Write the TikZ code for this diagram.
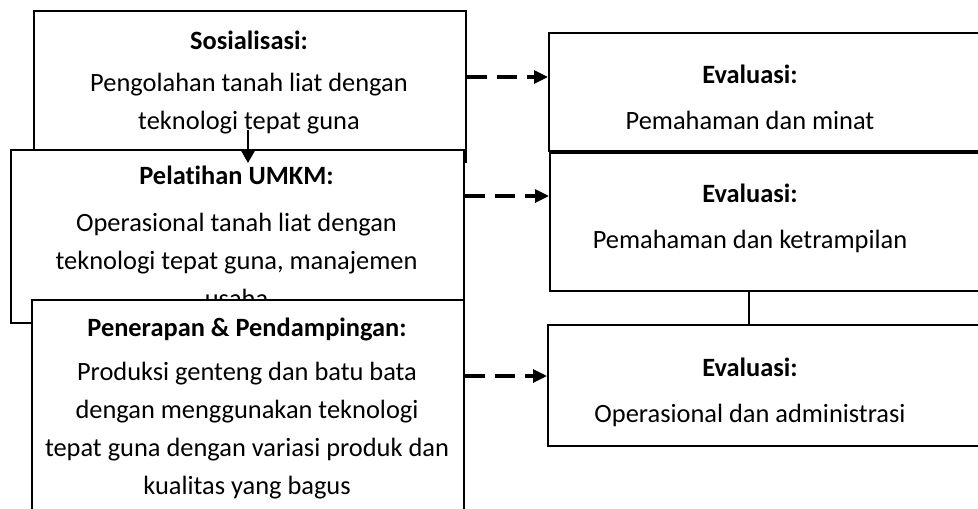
\documentclass[tikz,border=0pt]{standalone}
\usepackage{fontspec}
\setmainfont{Carlito}[Ligatures=NoCommon]
\usetikzlibrary{arrows.meta}
\tikzset{
  kotak/.style={draw,line width=1pt,fill=white,anchor=north west,inner sep=0pt},
  isi/.style={align=center,anchor=north,inner sep=0pt,
              font=\fontsize{13.2}{19}\selectfont},
  panah/.style={-{Triangle[length=7pt,width=6.5pt]},line width=1.6pt,
                dash pattern=on 10pt off 5pt},
  tegak/.style={-{Triangle[length=6pt,width=6.5pt]},line width=1pt}
}
\begin{document}
\begin{tikzpicture}[x=0.5pt,y=-0.5pt]
    \useasboundingbox (0,0) rectangle (978,508);
    % kiri: kegiatan
    \node[kotak,minimum width=216pt,minimum height=75.5pt](sos) at (33,10) {};
    \node[isi](sostxt) at (249,31)
      {\textbf{Sosialisasi:}\\[2pt] Pengolahan tanah liat dengan\\ teknologi tepat guna};
    \node[kotak,minimum width=226.5pt,minimum height=86.5pt](pel) at (10,149) {};
    \node[isi](peltxt) at (236.5,166)
      {\textbf{Pelatihan UMKM:}\\[4.5pt] Operasional tanah liat dengan\\
       teknologi tepat guna, manajemen\\ usaha};
    \node[kotak,minimum width=216pt,minimum height=120pt](pen) at (31,299) {};
    \node[isi](pentxt) at (247,318)
      {\textbf{Penerapan \& Pendampingan:}\\[3pt] Produksi genteng dan batu bata\\
       dengan menggunakan teknologi\\ tepat guna dengan variasi produk dan\\
       kualitas yang bagus};
    % kanan: evaluasi
    \node[kotak,minimum width=220pt,minimum height=59pt](ev1) at (548,32) {};
    \node[isi](ev1txt) at (750,65) {\textbf{Evaluasi:}\\[4pt] Pemahaman dan minat};
    \node[kotak,minimum width=220pt,minimum height=69pt](ev2) at (549,152) {};
    \node[isi](ev2txt) at (750,184) {\textbf{Evaluasi:}\\[4pt] Pemahaman dan ketrampilan};
    \node[kotak,minimum width=220pt,minimum height=60.5pt](ev3) at (547,324) {};
    \node[isi](ev3txt) at (750,358) {\textbf{Evaluasi:}\\[4pt] Operasional dan administrasi};
    % penghubung
    \coordinate (a1) at (0,77);
    \coordinate (a2) at (0,196);
    \coordinate (a3) at (0,376);
    \coordinate (mid) at (749,0);
    \draw[panah](sos.east |- a1) -- (ev1.west |- a1);
    \draw[panah](pel.east |- a2) -- (ev2.west |- a2);
    \draw[panah](pen.east |- a3) -- (ev3.west |- a3);
    \draw[line width=1pt](ev2.south -| mid) -- (ev3.north -| mid);
    \draw[tegak](sos.south) ++(-2,-33) -- ++(0,33);
\end{tikzpicture}
\end{document}
